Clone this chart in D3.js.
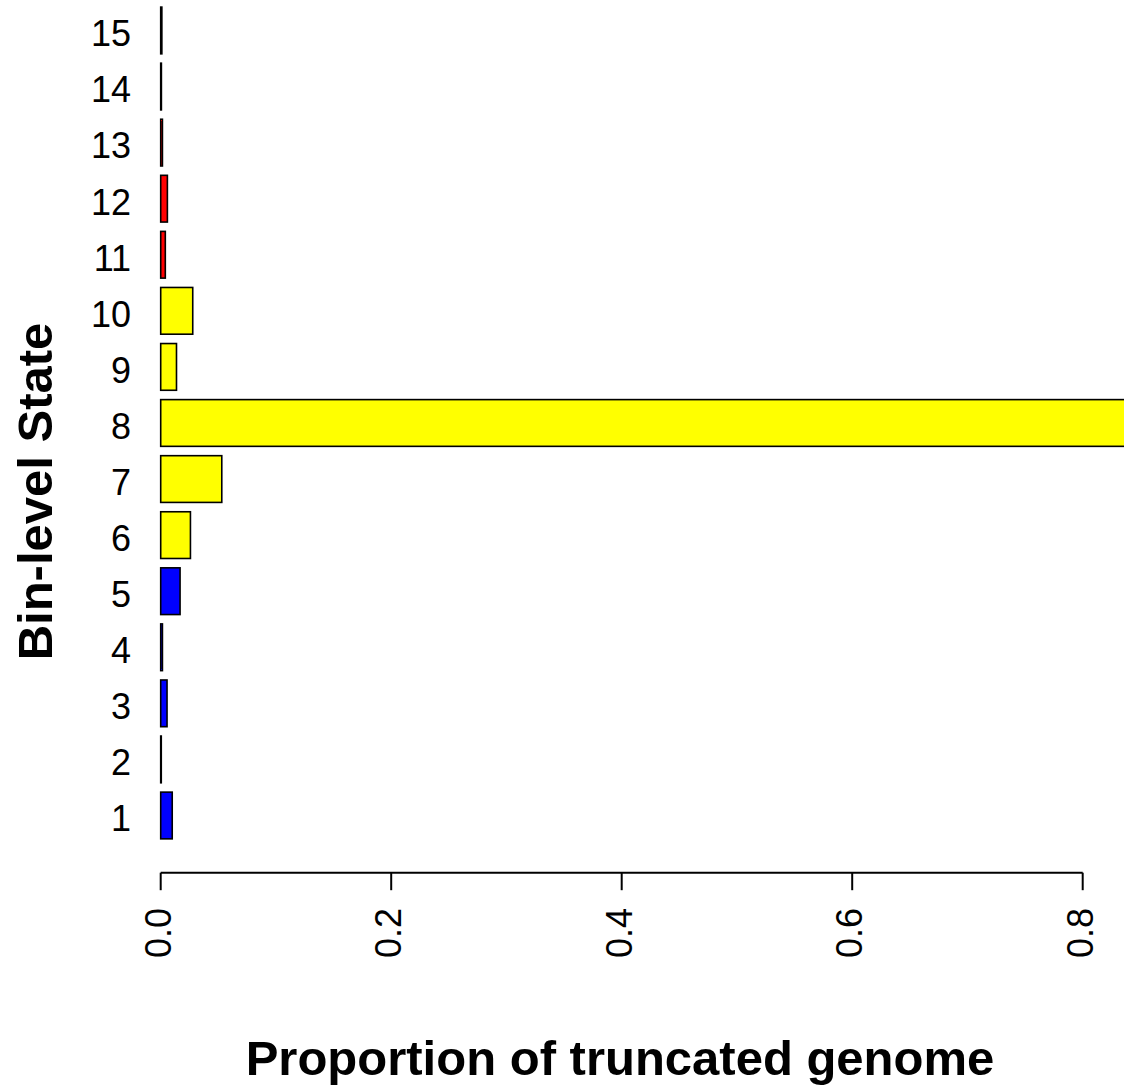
<!DOCTYPE html>
<html>
<head>
<meta charset="utf-8">
<script src="https://cdn.jsdelivr.net/npm/d3@7"></script>
<style>
  html, body { margin: 0; padding: 0; background: #fff; }
  svg { display: block; }
  text { font-family: "Liberation Sans", Arial, Helvetica, sans-serif; fill: #000; }
</style>
</head>
<body>
<script>
// Data
const states = [1, 2, 3, 4, 5, 6, 7, 8, 9, 10, 11, 12, 13, 14, 15];
const proportions = [0.010, 0.0005, 0.0055, 0.0015, 0.0168, 0.0258, 0.0530, 0.860, 0.0137, 0.0278, 0.0040, 0.0058, 0.0015, 0.0006, 0.0010];
const barColors = ["#0000FF", "#0000FF", "#0000FF", "#0000FF", "#0000FF",
                   "#FFFF00", "#FFFF00", "#FFFF00", "#FFFF00", "#FFFF00",
                   "#FF0000", "#FF0000", "#FF0000", "#FF0000", "#FF0000"];
const xTicks = [0.0, 0.2, 0.4, 0.6, 0.8];
const xTickLabels = ["0.0", "0.2", "0.4", "0.6", "0.8"];
const xLabel = "Proportion of truncated genome";
const yLabel = "Bin-level State";

const W = 1124, H = 1089;
const svg = d3.select("body").append("svg").attr("width", W).attr("height", H);

const x = d3.scaleLinear().domain([0, 0.8]).range([160.7, 1082.7]);
// barplot coordinates: width 1, space 0.2
const y = d3.scaleLinear().domain([0, 18]).range([848.2, 7.1]);

const bars = svg.append("g");
states.forEach((s, i) => {
  const y0 = 0.2 + i * 1.2, y1 = (i + 1) * 1.2;
  bars.append("rect")
    .attr("x", x(0))
    .attr("y", y(y1))
    .attr("width", Math.max(0, x(proportions[i]) - x(0)))
    .attr("height", y(y0) - y(y1))
    .attr("fill", barColors[i])
    .attr("stroke", "#000")
    .attr("stroke-width", 1.6);
  svg.append("text")
    .attr("x", 131)
    .attr("y", y((y0 + y1) / 2))
    .attr("dy", "0.44em")
    .attr("text-anchor", "end")
    .style("font-size", "36px")
    .text(s);
});

// x axis
const axisY = 872.7;
const ax = svg.append("g");
ax.append("line")
  .attr("x1", x(xTicks[0])).attr("x2", x(xTicks[xTicks.length - 1]))
  .attr("y1", axisY).attr("y2", axisY)
  .attr("stroke", "#000").attr("stroke-width", 2);
xTicks.forEach((t, i) => {
  ax.append("line")
    .attr("x1", x(t)).attr("x2", x(t))
    .attr("y1", axisY).attr("y2", axisY + 17.5)
    .attr("stroke", "#000").attr("stroke-width", 2);
  ax.append("text")
    .attr("transform", `translate(${x(t)},908) rotate(-90)`)
    .attr("text-anchor", "end")
    .attr("dy", "0.28em")
    .style("font-size", "36px")
    .text(xTickLabels[i]);
});

// titles
svg.append("text")
  .attr("x", 620).attr("y", 1075)
  .attr("text-anchor", "middle")
  .style("font-size", "49px").style("font-weight", "bold")
  .text(xLabel);
svg.append("text")
  .attr("transform", "translate(52,491.5) rotate(-90)")
  .attr("text-anchor", "middle")
  .style("font-size", "49px").style("font-weight", "bold")
  .text(yLabel);
</script>
</body>
</html>
